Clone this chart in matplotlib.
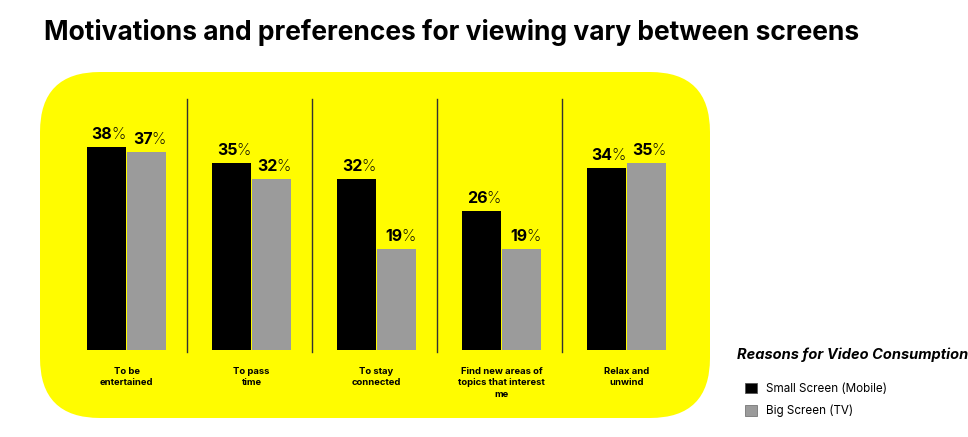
import matplotlib.pyplot as plt
from matplotlib.patches import FancyBboxPatch, Patch

categories = ["To be\nentertained", "To pass\ntime", "To stay\nconnected",
              "Find new areas of\ntopics that interest\nme", "Relax and\nunwind"]
mobile = [38, 35, 32, 26, 34]
tv = [37, 32, 19, 19, 35]
series_names = ["Small Screen (Mobile)", "Big Screen (TV)"]

YELLOW = "#FFFC00"
BLACK = "#000000"
GRAY = "#9B9B9B"
FONT = ["Inter", "DejaVu Sans"]
plt.rcParams["font.family"] = FONT

W, H = 968, 437
fig = plt.figure(figsize=(W / 100, H / 100), dpi=100)

# background layer in pixel coordinates
bg = fig.add_axes([0, 0, 1, 1])
bg.set_xlim(0, W)
bg.set_ylim(H, 0)
bg.axis("off")
bg.add_patch(FancyBboxPatch((40, 72), 670, 346,
                            boxstyle="round,pad=0,rounding_size=60",
                            facecolor=YELLOW, edgecolor="none"))
bg.text(44, 33, "Motivations and preferences for viewing vary between screens",
        fontsize=19, fontweight="bold", va="center", ha="left")

# bar axes: x -0.5..4.5 -> px 64..689, y 0 -> px 350
px_l, px_r, px_b, px_t = 64, 689, 350, 90
ax = fig.add_axes([px_l / W, 1 - px_b / H, (px_r - px_l) / W, (px_b - px_t) / H])
ax.set_xlim(-0.5, 4.5)
ax.set_ylim(0, (px_b - px_t) / 5.34)
ax.axis("off")
ax.patch.set_alpha(0)

bw = 0.312
off = 0.16
x = list(range(len(categories)))
ax.bar([i - off for i in x], mobile, width=bw, color=BLACK, edgecolor="none")
ax.bar([i + off for i in x], tv, width=bw, color=GRAY, edgecolor="none")

for i in x:
    for dx, v in ((-off, mobile[i]), (off, tv[i])):
        ax.annotate(str(v), (i + dx, v), xytext=(6, 8), textcoords="offset pixels",
                    ha="right", va="baseline", fontsize=11.5, fontweight="bold")
        ax.annotate("%", (i + dx, v), xytext=(5, 8), textcoords="offset pixels",
                    ha="left", va="baseline", fontsize=11.5, fontweight="light")
    ax.annotate(categories[i], (i, 0), xytext=(0, -17), textcoords="offset pixels",
                ha="center", va="top", fontsize=6.8, fontweight="bold",
                linespacing=1.35)

for s in [0.5, 1.5, 2.5, 3.5]:
    ax.plot([s - 0.02, s - 0.02], [-0.3, 47], color="#333333", lw=1, clip_on=False)

# legend
bg.text(737, 355, "Reasons for Video Consumption", fontsize=10.5,
        fontweight="bold", fontstyle="italic", va="center", ha="left")
handles = [Patch(facecolor=BLACK, edgecolor="#555555", linewidth=0.6),
           Patch(facecolor=GRAY, edgecolor="#777777", linewidth=0.6)]
leg = fig.legend(handles, series_names, loc="upper left",
                 bbox_to_anchor=(734 / W, 1 - 372 / H), frameon=False,
                 fontsize=8.4, handlelength=1.05, handleheight=1.05,
                 handletextpad=0.75, labelspacing=0.85)

fig.savefig("out.png", dpi=100)
